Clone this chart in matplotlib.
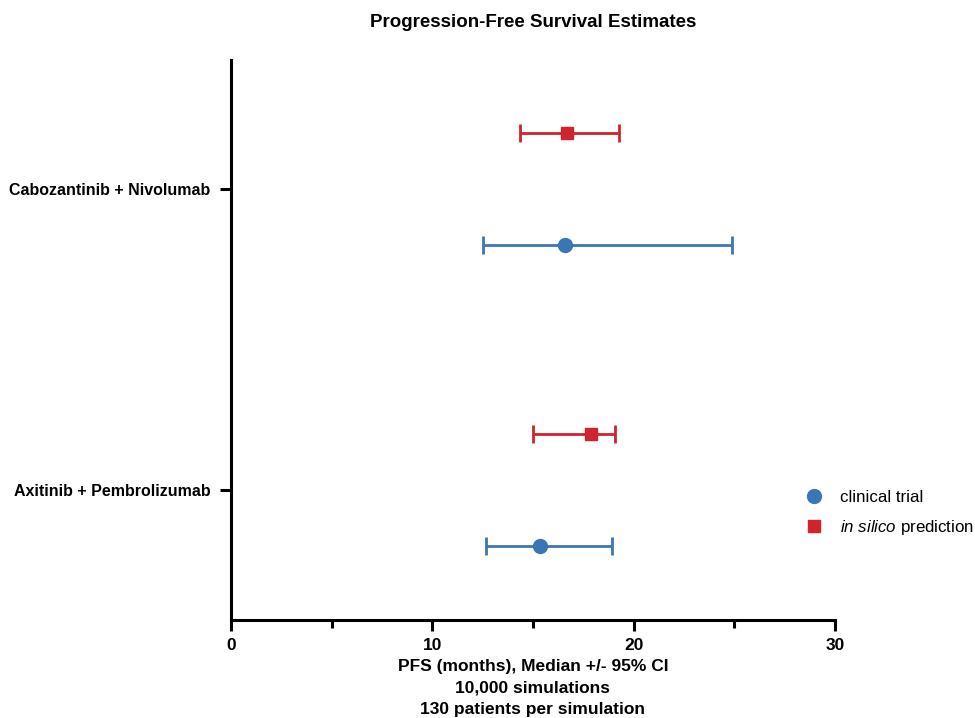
import matplotlib.pyplot as plt
from matplotlib.ticker import MultipleLocator
from matplotlib.lines import Line2D

plt.rcParams['font.family'] = ['Liberation Sans', 'DejaVu Sans']
plt.rcParams['mathtext.fontset'] = 'custom'
plt.rcParams['mathtext.rm'] = 'Liberation Sans'
plt.rcParams['mathtext.it'] = 'Liberation Sans:italic'

treatments = ['Axitinib + Pembrolizumab', 'Cabozantinib + Nivolumab']
trial_median = [15.35, 16.6]
trial_low = [12.65, 12.5]
trial_high = [18.9, 24.9]
silico_median = [17.9, 16.7]
silico_low = [15.0, 14.35]
silico_high = [19.05, 19.25]

blue = '#3a76b6'
red = '#d12230'
off = 0.187

fig = plt.figure(figsize=(9.75, 7.18), dpi=100)
ax = fig.add_axes([0.2369, 0.1365, 0.6195, 0.78])

ypos = list(range(len(treatments)))
yt = [y - off for y in ypos]
ys = [y + off for y in ypos]

ax.errorbar(trial_median, yt,
            xerr=[[m - l for m, l in zip(trial_median, trial_low)],
                  [h - m for m, h in zip(trial_median, trial_high)]],
            fmt='o', color=blue, ms=10, elinewidth=2, capsize=6.5, capthick=2)
ax.errorbar(silico_median, ys,
            xerr=[[m - l for m, l in zip(silico_median, silico_low)],
                  [h - m for m, h in zip(silico_median, silico_high)]],
            fmt='s', color=red, ms=9, elinewidth=2, capsize=6.5, capthick=2)

ax.set_xlim(0, 30)
ax.set_ylim(-0.432, 1.4286)
ax.set_yticks(ypos)
ax.set_yticklabels(treatments, fontweight='bold', fontsize=11.5)
ax.xaxis.set_major_locator(MultipleLocator(10))
ax.xaxis.set_minor_locator(MultipleLocator(5))
for lab in ax.get_xticklabels():
    lab.set_fontweight('bold')
    lab.set_fontsize(12.5)

for s in ['top', 'right']:
    ax.spines[s].set_visible(False)
for s in ['left', 'bottom']:
    ax.spines[s].set_linewidth(2.2)
ax.tick_params(axis='both', which='both', width=2.2, length=8, direction='out')
ax.tick_params(axis='x', which='minor', length=6)
ax.tick_params(axis='y', pad=7)
ax.tick_params(axis='x', pad=5)

ax.set_xlabel('PFS (months), Median +/- 95% CI\n10,000 simulations\n130 patients per simulation',
              fontweight='bold', fontsize=12.5, linespacing=1.55, labelpad=4)
ax.set_title('Progression-Free Survival Estimates', fontweight='bold', fontsize=13.5, pad=24)

handles = [Line2D([], [], ls='none', marker='o', ms=10, color=blue),
           Line2D([], [], ls='none', marker='s', ms=9, color=red)]
labels = ['clinical trial', r'$\mathit{in\ silico}$ prediction']
ax.legend(handles, labels, loc='center left', bbox_to_anchor=(0.811, 0.285),
          bbox_transform=fig.transFigure, frameon=False, fontsize=12.2,
          handletextpad=1.0, labelspacing=0.8, handlelength=1.0)

fig.savefig('out.png', dpi=100)
